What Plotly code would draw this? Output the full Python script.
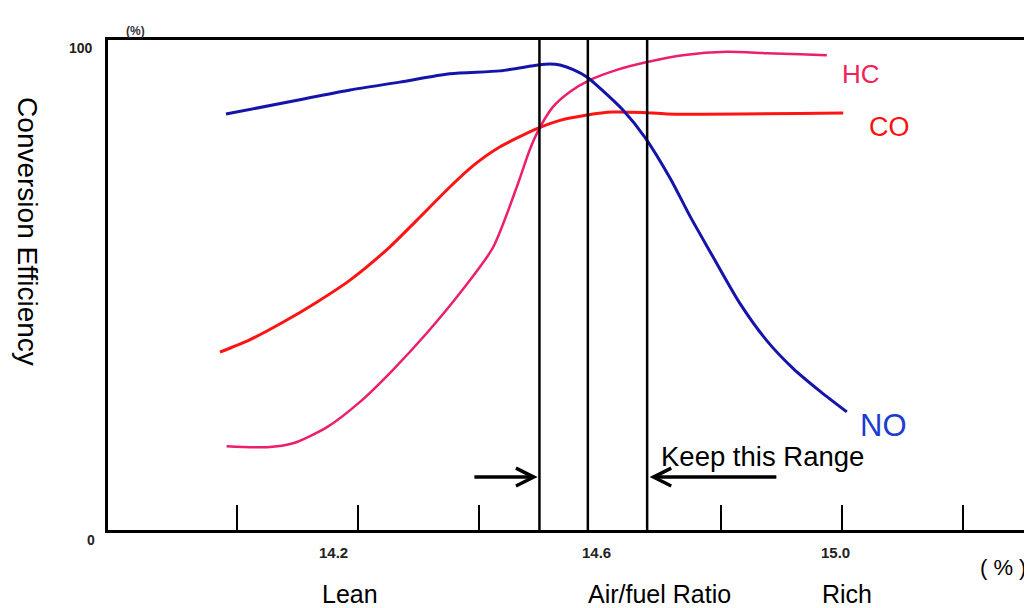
import plotly.graph_objects as go

# ---- data (air/fuel ratio vs conversion efficiency %) ----
no_x = [13.982, 14.104, 14.187, 14.269, 14.352, 14.435, 14.498, 14.517, 14.534, 14.555,
        14.579, 14.605, 14.638, 14.674, 14.716, 14.749, 14.782, 14.831, 14.876, 14.919,
        14.964, 15.008]
no_y = [84.9, 87.8, 89.8, 91.4, 93.1, 93.7, 94.9, 95.1, 94.9, 94.0,
        92.4, 89.6, 85.7, 80.2, 71.8, 64.0, 56.8, 46.3, 38.6, 33.0,
        28.3, 24.1]

hc_x = [13.983, 14.050, 14.093, 14.149, 14.203, 14.258, 14.314, 14.369, 14.423,
        14.464, 14.484, 14.501, 14.522, 14.550, 14.583, 14.628, 14.678, 14.737, 14.810,
        14.876, 14.931, 14.975]
hc_y = [17.1, 16.9, 17.7, 21.0, 26.1, 32.7, 40.2, 48.4, 57.6,
        70.5, 77.6, 82.2, 86.3, 89.4, 91.8, 93.9, 95.5, 96.9, 97.6,
        97.3, 97.1, 96.9]

co_x = [13.972, 14.021, 14.076, 14.132, 14.187, 14.253, 14.298, 14.352, 14.390, 14.435,
        14.498, 14.534, 14.579, 14.621, 14.671, 14.711, 15.002]
co_y = [36.3, 38.8, 42.4, 46.5, 51.0, 57.8, 63.3, 70.0, 74.3, 78.2,
        82.0, 83.6, 84.7, 85.3, 85.2, 84.9, 85.1]

tick_marks = [14.0, 14.2, 14.4, 14.8, 15.0, 15.2]
tick_label_pos = [14.16, 14.595, 14.99]
tick_labels = ["14.2", "14.6", "15.0"]
range_lines = [14.5, 14.58, 14.678]
bottom_words = ["Lean", "Air/fuel Ratio", "Rich"]
bottom_word_pos = [14.187, 14.698, 15.008]

FONT = "Arial, Liberation Sans, sans-serif"

fig = go.Figure()
fig.add_trace(go.Scatter(x=co_x, y=co_y, mode="lines", name="CO",
                         line=dict(color="#FF1414", width=3, shape="spline", smoothing=0.7)))
fig.add_trace(go.Scatter(x=hc_x, y=hc_y, mode="lines", name="HC",
                         line=dict(color="#EC1E6E", width=2.5, shape="spline", smoothing=0.7)))
fig.add_trace(go.Scatter(x=no_x, y=no_y, mode="lines", name="NO",
                         line=dict(color="#1414AA", width=3, shape="spline", smoothing=0.7)))

for xv in range_lines:
    fig.add_shape(type="line", xref="x", yref="paper", x0=xv, x1=xv, y0=0, y1=1,
                  line=dict(color="black", width=2.5))

ann = []
# curve labels
ann.append(dict(x=15.031, y=93.1, text="HC", font=dict(size=26, color="#F0225A", family=FONT)))
ann.append(dict(x=15.079, y=82.2, text="CO", font=dict(size=27, color="#FF1010", family=FONT)))
ann.append(dict(x=15.068, y=21.4, text="NO", font=dict(size=31, color="#1E3CD2", family=FONT)))
ann.append(dict(x=14.869, y=15.1, text="Keep this Range", font=dict(size=27.5, color="black", family=FONT)))
# arrows
ann.append(dict(x=14.497, y=10.8, ax=14.390, ay=10.8, axref="x", ayref="y", text="",
                showarrow=True, arrowhead=5, arrowsize=1.0, arrowwidth=3.5, arrowcolor="black"))
ann.append(dict(x=14.682, y=10.8, ax=14.894, ay=10.8, axref="x", ayref="y", text="",
                showarrow=True, arrowhead=5, arrowsize=1.0, arrowwidth=3.5, arrowcolor="black"))
# x tick labels
for xv, t in zip(tick_label_pos, tick_labels):
    ann.append(dict(x=xv, y=0, yshift=-22, text=t, xanchor="center",
                    font=dict(size=15, color="#222", family=FONT, weight="bold")))
for xv, t in zip(bottom_word_pos, bottom_words):
    ann.append(dict(x=xv, y=0, yshift=-64, text=t, xanchor="center",
                    font=dict(size=25, color="black", family=FONT)))
# y labels
ann.append(dict(xref="paper", x=0, y=100, xanchor="right", xshift=-13, yshift=-8, text="100",
                font=dict(size=14, color="#222", family=FONT, weight="bold")))
ann.append(dict(xref="paper", x=0, y=0, xanchor="right", xshift=-11, yshift=-10, text="0",
                font=dict(size=14, color="#222", family=FONT, weight="bold")))
ann.append(dict(xref="paper", yref="paper", x=0, y=1, xanchor="center", xshift=27, yshift=18,
                text="(%)", font=dict(size=12, color="#333", family=FONT, weight="bold")))
ann.append(dict(xref="paper", x=0.969, y=0, yshift=-37, xanchor="center", text="( % )",
                font=dict(size=22, color="black", family=FONT)))
ann.append(dict(xref="paper", yref="paper", x=0, xanchor="center", xshift=-80, y=0.61,
                text="Conversion Efficiency",
                textangle=90, font=dict(size=28, color="black", family=FONT)))

for a in ann:
    a.setdefault("showarrow", False)
    a.setdefault("xref", "x")
    a.setdefault("yref", "y")

fig.update_layout(
    width=1024, height=600,
    margin=dict(l=100, r=0, t=32, b=78),
    paper_bgcolor="white", plot_bgcolor="white",
    showlegend=False,
    annotations=ann,
    xaxis=dict(range=[13.787, 15.314], showgrid=False, zeroline=False,
               showline=True, linecolor="black", linewidth=3, mirror=True,
               tickvals=tick_marks, ticktext=[""] * len(tick_marks),
               ticks="inside", ticklen=25, tickwidth=1.5, tickcolor="black"),
    yaxis=dict(range=[0, 100], showgrid=False, zeroline=False,
               showline=True, linecolor="black", linewidth=3,
               showticklabels=False, ticks=""),
)

fig.write_html("out.html")
